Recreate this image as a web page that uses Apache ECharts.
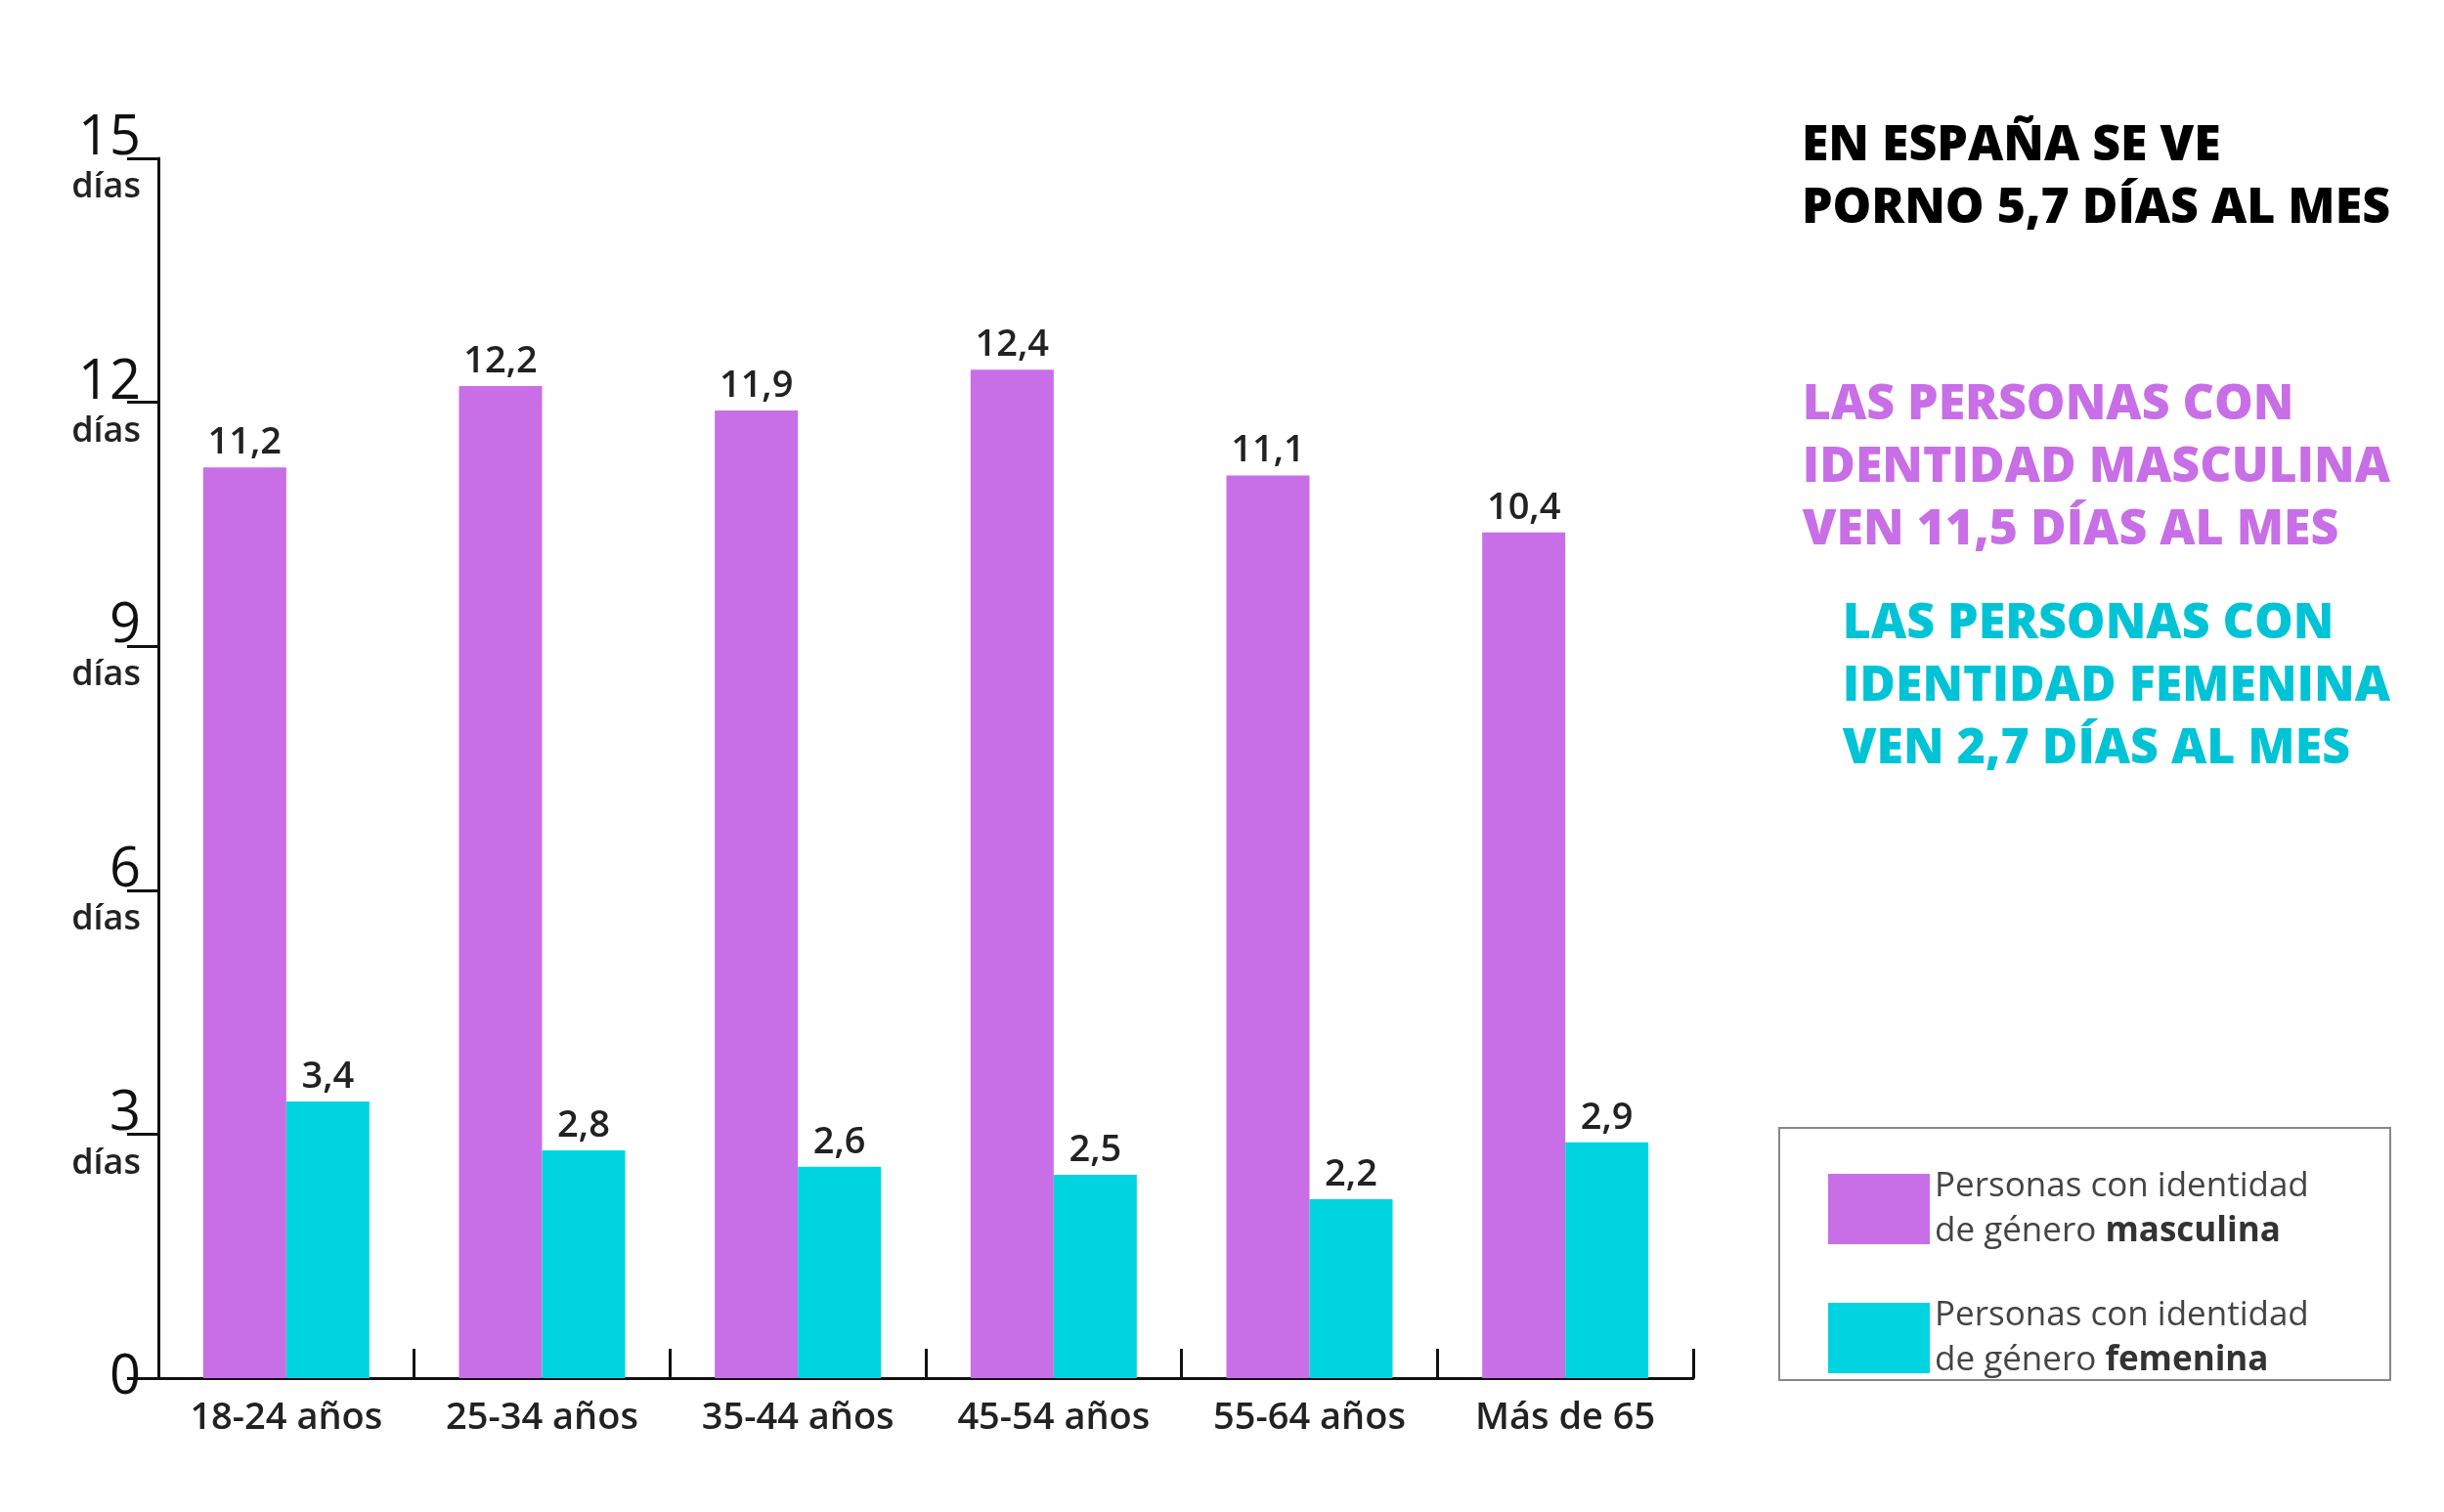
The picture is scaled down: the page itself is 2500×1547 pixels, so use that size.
<!DOCTYPE html>
<html><head><meta charset="utf-8">
<script src="https://cdn.jsdelivr.net/npm/echarts@6/dist/echarts.min.js"></script>
<style>html,body{margin:0;background:#fff}#c{width:2500px;height:1547px}</style>
</head><body><div id="c"></div>
<script>
const categories = ['18-24 años','25-34 años','35-44 años','45-54 años','55-64 años','Más de 65'];
const masculina = [11.2,12.2,11.9,12.4,11.1,10.4];
const femenina = [3.4,2.8,2.6,2.5,2.2,2.9];
const yTicks = [0,3,6,9,12,15];
const F = '"Open Sans", sans-serif';
const chart = echarts.init(document.getElementById('c'));
const lbl = {show:true, position:'top', fontFamily:F, fontSize:38, fontWeight:600, color:'#222', distance:6,
  formatter: p => String(p.value).replace('.', ',')};
chart.setOption({
  animation:false,
  grid:{left:162, right:768, top:162, bottom:137},
  xAxis:{type:'category', data:categories,
    axisLine:{lineStyle:{color:'#111', width:3}},
    axisTick:{show:true, inside:true, length:30, lineStyle:{color:'#111', width:3}},
    axisLabel:{fontFamily:F, fontSize:38, fontWeight:600, color:'#222', margin:22}},
  yAxis:{type:'value', min:0, max:15, interval:3,
    splitLine:{show:false},
    axisLine:{show:true, lineStyle:{color:'#111', width:3}},
    axisTick:{show:true, length:32, lineStyle:{color:'#111', width:3}},
    axisLabel:{margin:18, align:'right', verticalAlign:'middle',
      formatter: v => v===0 ? '{n|0}' : '{n|'+v+'}\n{d|días}',
      rich:{n:{fontFamily:F, fontSize:56, color:'#111', lineHeight:60, align:'right', padding:[0,0,0,0]},
            d:{fontFamily:F, fontSize:36, fontWeight:600, color:'#222', lineHeight:40, align:'right'}}}},
  legend:{orient:'vertical', left:1865, top:1186, itemWidth:104, itemHeight:72, itemGap:40,
    icon:'rect',
    textStyle:{fontFamily:F, fontSize:35, color:'#444', lineHeight:46,
      rich:{b:{fontFamily:F, fontSize:35, fontWeight:700, color:'#333', lineHeight:46}}},
    formatter: n => n==='m' ? 'Personas con identidad\nde género {b|masculina}' : 'Personas con identidad\nde género {b|femenina}',
    data:['m','f']},
  series:[
    {name:'m', type:'bar', data:masculina, barWidth:85, barGap:'0%', itemStyle:{color:'#C86EE6'}, label:lbl},
    {name:'f', type:'bar', data:femenina, barWidth:85, itemStyle:{color:'#00D4E0'}, label:lbl}
  ],
  graphic:[
    {type:'rect', shape:{x:1820, y:1154, width:625, height:258}, style:{fill:'none', stroke:'#888', lineWidth:2}},
    {type:'text', right:55, top:118, style:{text:'EN ESPAÑA SE VE\nPORNO 5,7 DÍAS AL MES', font:'800 50px "Open Sans"', fill:'#000', align:'right', lineHeight:64}},
    {type:'text', right:55, top:383, style:{text:'LAS PERSONAS CON\nIDENTIDAD MASCULINA\nVEN 11,5 DÍAS AL MES', font:'800 50px "Open Sans"', fill:'#C86EE6', align:'right', lineHeight:64}},
    {type:'text', right:55, top:607, style:{text:'LAS PERSONAS CON\nIDENTIDAD FEMENINA\nVEN 2,7 DÍAS AL MES', font:'800 50px "Open Sans"', fill:'#00C4D6', align:'right', lineHeight:64}}
  ]
});
</script></body></html>
